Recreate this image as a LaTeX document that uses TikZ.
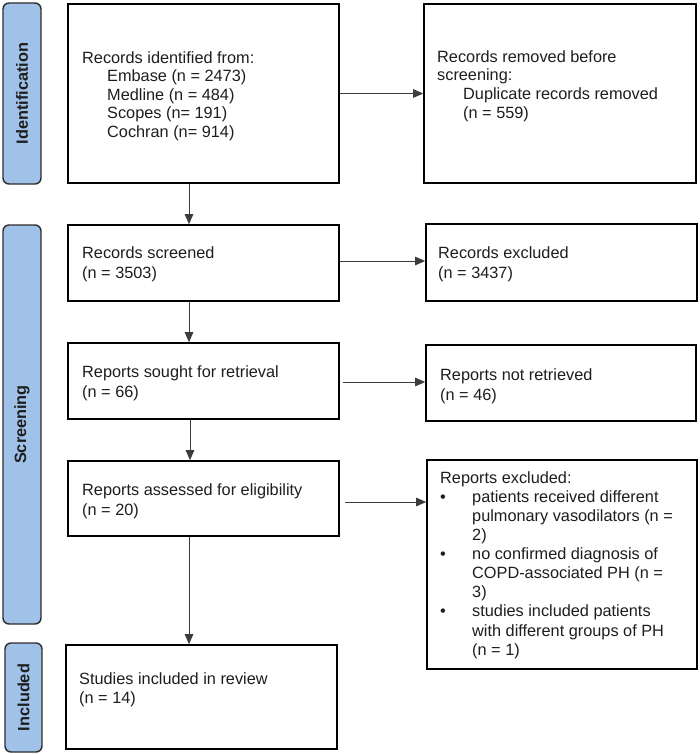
\documentclass[tikz,border=0pt]{standalone}
\usepackage{fontspec}
\setmainfont{Liberation Sans}
\usetikzlibrary{arrows.meta,calc}
\definecolor{labfill}{RGB}{160,194,232}
\definecolor{labline}{RGB}{45,45,45}
\definecolor{arrline}{RGB}{60,60,60}
\definecolor{txtcol}{RGB}{30,30,30}
\begin{document}
\begin{tikzpicture}[x=1pt,y=-1pt,
  box/.style={draw=black, line width=1.6pt, fill=white, inner sep=0pt, rectangle},
  lab/.style={draw=labline, line width=1.4pt, fill=labfill, rounded corners=6pt, inner sep=0pt, rotate=90, font=\fontsize{16.3}{19}\selectfont\bfseries, text=txtcol},
  txt/.style={anchor=north west, inner sep=0pt, align=left, text=txtcol},
  arr/.style={draw=arrline, line width=0.9pt, -{Triangle[length=10pt,width=8.5pt]}},
]
\useasboundingbox (0,0) rectangle (699,754);

% phase labels
\node[lab, minimum width=181pt, minimum height=38pt] (labid) at (22,93.5) {Identification};
\node[lab, minimum width=399pt, minimum height=38pt] (labscr) at (22,424.5) {Screening};
\node[lab, minimum width=109pt, minimum height=37pt] (labinc) at (23.5,697.5) {Included};

% boxes
\node[box, minimum width=271pt, minimum height=179pt] (b1) at (203.5,93.5) {};
\node[box, minimum width=272pt, minimum height=179pt] (rem) at (560,93.5) {};
\node[box, minimum width=271pt, minimum height=76pt] (scr) at (203.5,263) {};
\node[box, minimum width=271pt, minimum height=77pt] (excl) at (561.5,262.5) {};
\node[box, minimum width=271pt, minimum height=76pt] (sought) at (203.5,381) {};
\node[box, minimum width=270pt, minimum height=76pt] (notret) at (561,383) {};
\node[box, minimum width=271pt, minimum height=75pt] (assessed) at (203.5,498.5) {};
\node[box, minimum width=270pt, minimum height=209pt] (rexcl) at (562,564.5) {};
\node[box, minimum width=271pt, minimum height=104pt] (studies) at (201.5,697) {};

% texts
\node[txt, font=\fontsize{16.3}{18.5}\selectfont] (t1) at (82,63-12.95)
  {\strut Records identified from:\\
   \hspace*{25pt}Embase (n = 2473)\\
   \hspace*{25pt}Medline (n = 484)\\
   \hspace*{25pt}Scopes (n= 191)\\
   \hspace*{25pt}Cochran (n= 914)};
\node[txt, font=\fontsize{16.3}{18.7}\selectfont] (t2) at (437,62-13.09)
  {\strut Records removed before\\
   screening:\\
   \hspace*{26pt}Duplicate records removed\\
   \hspace*{26pt}(n = 559)};
\node[txt, font=\fontsize{16.3}{20}\selectfont] (t3) at (82,258-14) {\strut Records screened\\(n = 3503)};
\node[txt, font=\fontsize{16.3}{20}\selectfont] (t4) at (438,258-14) {\strut Records excluded\\(n = 3437)};
\node[txt, font=\fontsize{16.3}{20}\selectfont] (t5) at (82,377-14) {\strut Reports sought for retrieval\\(n = 66)};
\node[txt, font=\fontsize{16.3}{20}\selectfont] (t6) at (440,380-14) {\strut Reports not retrieved\\(n = 46)};
\node[txt, font=\fontsize{16.3}{20}\selectfont] (t7) at (82,495-14) {\strut Reports assessed for eligibility\\(n = 20)};
\node[txt, font=\fontsize{16.3}{19.1}\selectfont] (t8) at (440,483-13.37)
  {\strut Reports excluded:\\
   \makebox[32pt][l]{\textbullet}patients received different\\
   \hspace*{32pt}pulmonary vasodilators (n =\\
   \hspace*{32pt}2)\\
   \makebox[32pt][l]{\textbullet}no confirmed diagnosis of\\
   \hspace*{32pt}COPD-associated PH (n =\\
   \hspace*{32pt}3)\\
   \makebox[32pt][l]{\textbullet}studies included patients\\
   \hspace*{32pt}with different groups of PH\\
   \hspace*{32pt}(n = 1)};
\node[txt, font=\fontsize{16.3}{19.5}\selectfont] (t9) at (79,684-13.65) {\strut Studies included in review\\(n = 14)};

% vertical arrows
\coordinate (v1) at ([xshift=-14.5pt]b1.south);
\draw[arr] (v1) -- (v1 |- scr.north);
\coordinate (v2) at ([xshift=-14.5pt]scr.south);
\draw[arr] (v2) -- (v2 |- sought.north);
\coordinate (v3) at ([xshift=-13.5pt]sought.south);
\draw[arr] (v3) -- (v3 |- assessed.north);
\coordinate (v4) at ([xshift=-14.5pt]assessed.south);
\draw[arr] (v4) -- (v4 |- studies.north);

% horizontal arrows
\draw[arr] (b1.east) -- (b1.east -| rem.west);
\coordinate (h2) at ([yshift=2pt]scr.east);
\draw[arr] (h2) -- (h2 -| excl.west);
\coordinate (h3) at ([xshift=3pt,yshift=-1pt]sought.east);
\draw[arr] (h3) -- (h3 -| notret.west);
\coordinate (h4) at ([xshift=5pt,yshift=-3.5pt]assessed.east);
\draw[arr] (h4) -- (h4 -| rexcl.west);
\end{tikzpicture}
\end{document}
